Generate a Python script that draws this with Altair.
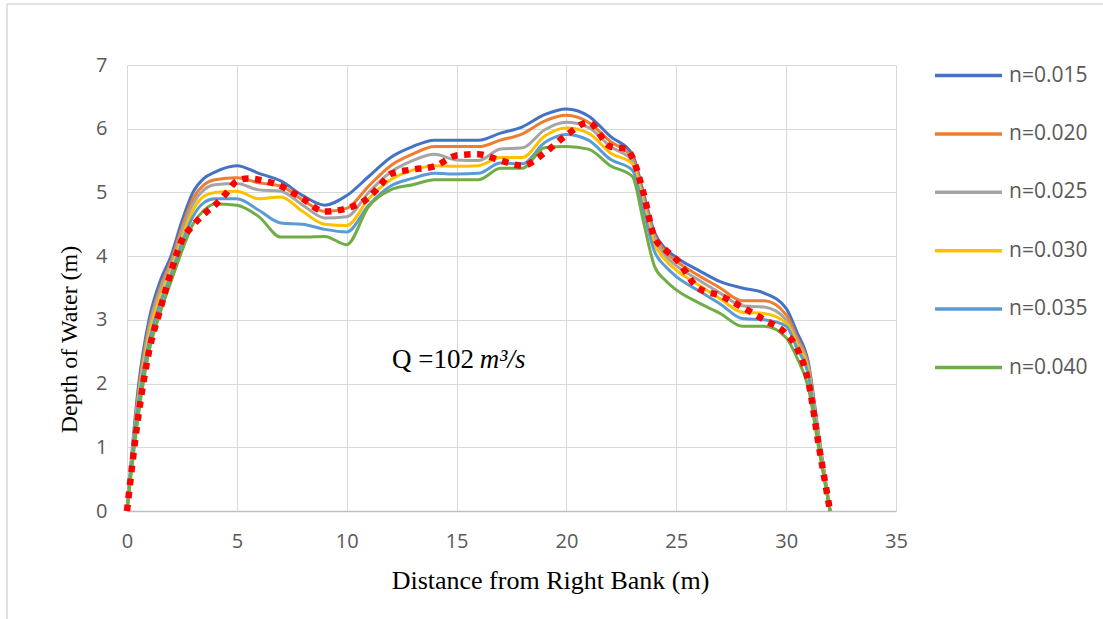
import altair as alt
import pandas as pd

# ---- data ----
distance = [0, 0.5, 1, 1.5, 2, 2.5, 3, 3.5, 4, 5, 6, 7, 8, 9, 10, 11, 12, 13, 14, 15,
            16, 17, 18, 19, 20, 21, 22, 23, 23.5, 24, 24.5, 25, 26, 27, 28, 29, 30,
            30.5, 31, 31.5, 32]

n015 = [0, 1.9, 3.0, 3.6, 4.0, 4.55, 5.0, 5.22, 5.32, 5.42, 5.3, 5.18, 4.95, 4.8, 4.95,
        5.25, 5.55, 5.72, 5.82, 5.82, 5.82, 5.93, 6.03, 6.22, 6.31, 6.2, 5.88, 5.6, 5.0,
        4.38, 4.12, 3.98, 3.78, 3.6, 3.5, 3.42, 3.18, 2.8, 2.35, 1.15, 0]
n020 = [0, 1.8, 2.9, 3.5, 3.92, 4.45, 4.9, 5.12, 5.2, 5.23, 5.15, 5.1, 4.88, 4.7, 4.75,
        5.1, 5.42, 5.6, 5.72, 5.72, 5.72, 5.82, 5.92, 6.12, 6.21, 6.1, 5.8, 5.55, 4.95,
        4.33, 4.07, 3.92, 3.7, 3.5, 3.3, 3.3, 3.08, 2.72, 2.3, 1.1, 0]
n025 = [0, 1.75, 2.85, 3.45, 3.86, 4.38, 4.82, 5.04, 5.12, 5.14, 5.04, 5.02, 4.8, 4.6, 4.62,
        5.0, 5.32, 5.5, 5.6, 5.51, 5.5, 5.68, 5.7, 5.98, 6.1, 6.02, 5.72, 5.5, 4.9,
        4.28, 4.01, 3.85, 3.63, 3.42, 3.22, 3.2, 3.0, 2.67, 2.27, 1.1, 0]
n030 = [0, 1.7, 2.75, 3.35, 3.78, 4.28, 4.72, 4.94, 5.0, 5.02, 4.9, 4.93, 4.7, 4.5, 4.48,
        4.9, 5.2, 5.35, 5.42, 5.41, 5.42, 5.55, 5.55, 5.88, 6.01, 5.93, 5.62, 5.45, 4.83,
        4.2, 3.94, 3.78, 3.55, 3.33, 3.12, 3.1, 2.95, 2.62, 2.22, 1.05, 0]
n035 = [0, 1.65, 2.65, 3.25, 3.7, 4.2, 4.62, 4.84, 4.9, 4.9, 4.72, 4.52, 4.5, 4.42, 4.38,
        4.8, 5.1, 5.22, 5.3, 5.29, 5.3, 5.46, 5.45, 5.78, 5.91, 5.82, 5.52, 5.35, 4.73,
        4.08, 3.84, 3.68, 3.46, 3.25, 3.02, 3.0, 2.9, 2.55, 2.15, 1.0, 0]
n040 = [0, 1.45, 2.5, 3.1, 3.6, 4.08, 4.5, 4.72, 4.82, 4.8, 4.62, 4.3, 4.3, 4.31, 4.18,
        4.78, 5.04, 5.12, 5.2, 5.2, 5.2, 5.38, 5.38, 5.7, 5.72, 5.68, 5.42, 5.25, 4.55,
        3.85, 3.62, 3.47, 3.27, 3.1, 2.9, 2.9, 2.72, 2.4, 1.95, 0.95, 0]

series_names = ["n=0.015", "n=0.020", "n=0.025", "n=0.030", "n=0.035", "n=0.040"]
series_values = [n015, n020, n025, n030, n035, n040]
series_colors = ["#4472C4", "#ED7D31", "#A5A5A5", "#FFC000", "#5B9BD5", "#70AD47"]

obs_distance = [0, 0.5, 1, 1.5, 2, 2.5, 3, 3.5, 4, 4.5, 5, 5.5, 6, 7, 8, 9, 10, 11, 11.5,
                12, 13, 14, 15, 16, 17, 18, 19, 20, 21, 22, 22.75, 23, 23.5, 24, 24.5,
                25, 26, 27, 28, 29, 30, 30.5, 31, 31.5, 32]
obs_depth = [0, 1.45, 2.5, 3.15, 3.75, 4.25, 4.48, 4.66, 4.8, 4.98, 5.18, 5.22, 5.2, 5.1,
             4.9, 4.7, 4.75, 4.92, 5.1, 5.29, 5.36, 5.41, 5.58, 5.6, 5.5, 5.42, 5.62, 5.9,
             6.1, 5.72, 5.68, 5.55, 5.0, 4.3, 4.1, 3.95, 3.5, 3.38, 3.2, 3.0, 2.78, 2.55,
             2.05, 1.0, 0]

annot_main = ["Q =102"]
annot_unit = ["m³/s"]
annot_x = [15.79]
annot_unit_x = [16.06]
annot_y = [2.25]

# ---- tables ----
rows = []
for name, vals in zip(series_names, series_values):
    for d, v in zip(distance, vals):
        rows.append({"distance": d, "depth": v, "series": name})
df = pd.DataFrame(rows)
obs = pd.DataFrame({"distance": obs_distance, "depth": obs_depth})
ann = pd.DataFrame({"x": annot_x, "x2": annot_unit_x, "y": annot_y,
                    "main": annot_main, "unit": annot_unit})

xscale = alt.Scale(domain=[0, 35], nice=False)
yscale = alt.Scale(domain=[0, 7], nice=False)

xaxis = alt.Axis(values=list(range(0, 36, 5)), title="Distance from Right Bank (m)",
                 format="d", labelFlush=False,
                 grid=True, gridColor="#d9d9d9", ticks=False, domain=True,
                 domainColor="#bfbfbf", domainWidth=1.5,
                 labelFont="Open Sans", labelFontSize=20, labelColor="#595959",
                 labelPadding=20, titleFont="Liberation Serif", titleFontSize=26,
                 titleFontWeight="normal", titleColor="#000000",
                 titleX=423, titleY=69, titleBaseline="middle", titleAlign="center")
yaxis = alt.Axis(values=list(range(0, 8)), title="Depth of Water (m)",
                 format="d", labelFlush=False,
                 grid=True, gridColor="#d9d9d9", ticks=False, domain=False,
                 labelFont="Open Sans", labelFontSize=20, labelColor="#595959",
                 labelPadding=20, titleFont="Liberation Serif", titleFontSize=24,
                 titleFontWeight="normal", titleColor="#000000",
                 titleX=-58, titleY=274, titleAngle=270, titleBaseline="middle",
                 titleAlign="center")

lines = alt.Chart(df).mark_line(strokeWidth=3, interpolate="monotone").encode(
    x=alt.X("distance:Q", scale=xscale, axis=xaxis),
    y=alt.Y("depth:Q", scale=yscale, axis=yaxis),
    color=alt.Color("series:N",
                    scale=alt.Scale(domain=series_names, range=series_colors),
                    legend=alt.Legend(title=None, orient="none", legendX=806, legendY=-25,
                                      symbolType="stroke", symbolSize=4489,
                                      symbolStrokeWidth=3.5, labelFont="Open Sans",
                                      labelFontSize=21, labelColor="#595959",
                                      rowPadding=12.4, labelOffset=5)),
)

observed = alt.Chart(obs).mark_line(strokeWidth=6.5, strokeDash=[6.5, 6.5],
                                    color="#FF0000", interpolate="monotone").encode(
    x=alt.X("distance:Q", scale=xscale),
    y=alt.Y("depth:Q", scale=yscale),
)

t1 = alt.Chart(ann).mark_text(font="Liberation Serif", fontSize=27, align="right",
                              baseline="alphabetic", color="#000000").encode(
    x="x:Q", y="y:Q", text="main:N")
t2 = alt.Chart(ann).mark_text(font="Liberation Serif", fontSize=27, fontStyle="italic",
                              align="left", baseline="alphabetic", color="#000000").encode(
    x="x2:Q", y="y:Q", text="unit:N")

border_left = alt.Chart(ann).mark_rule(color="#d9d9d9", strokeWidth=1.5).encode(
    x=alt.value(-120), y=alt.value(-61), y2=alt.value(560))
border_top = alt.Chart(ann).mark_rule(color="#d9d9d9", strokeWidth=1.5).encode(
    x=alt.value(-120), x2=alt.value(1000), y=alt.value(-61))

chart = alt.layer(border_left, border_top, lines, observed, t1, t2).properties(
    width=769, height=446,
    autosize=alt.AutoSizeParams(type="none"),
    padding={"left": 127, "top": 65, "right": 207, "bottom": 108},
).configure_view(stroke=None).configure(background="white")

chart.save("out.html", embed_options={"renderer": "svg", "actions": False})
